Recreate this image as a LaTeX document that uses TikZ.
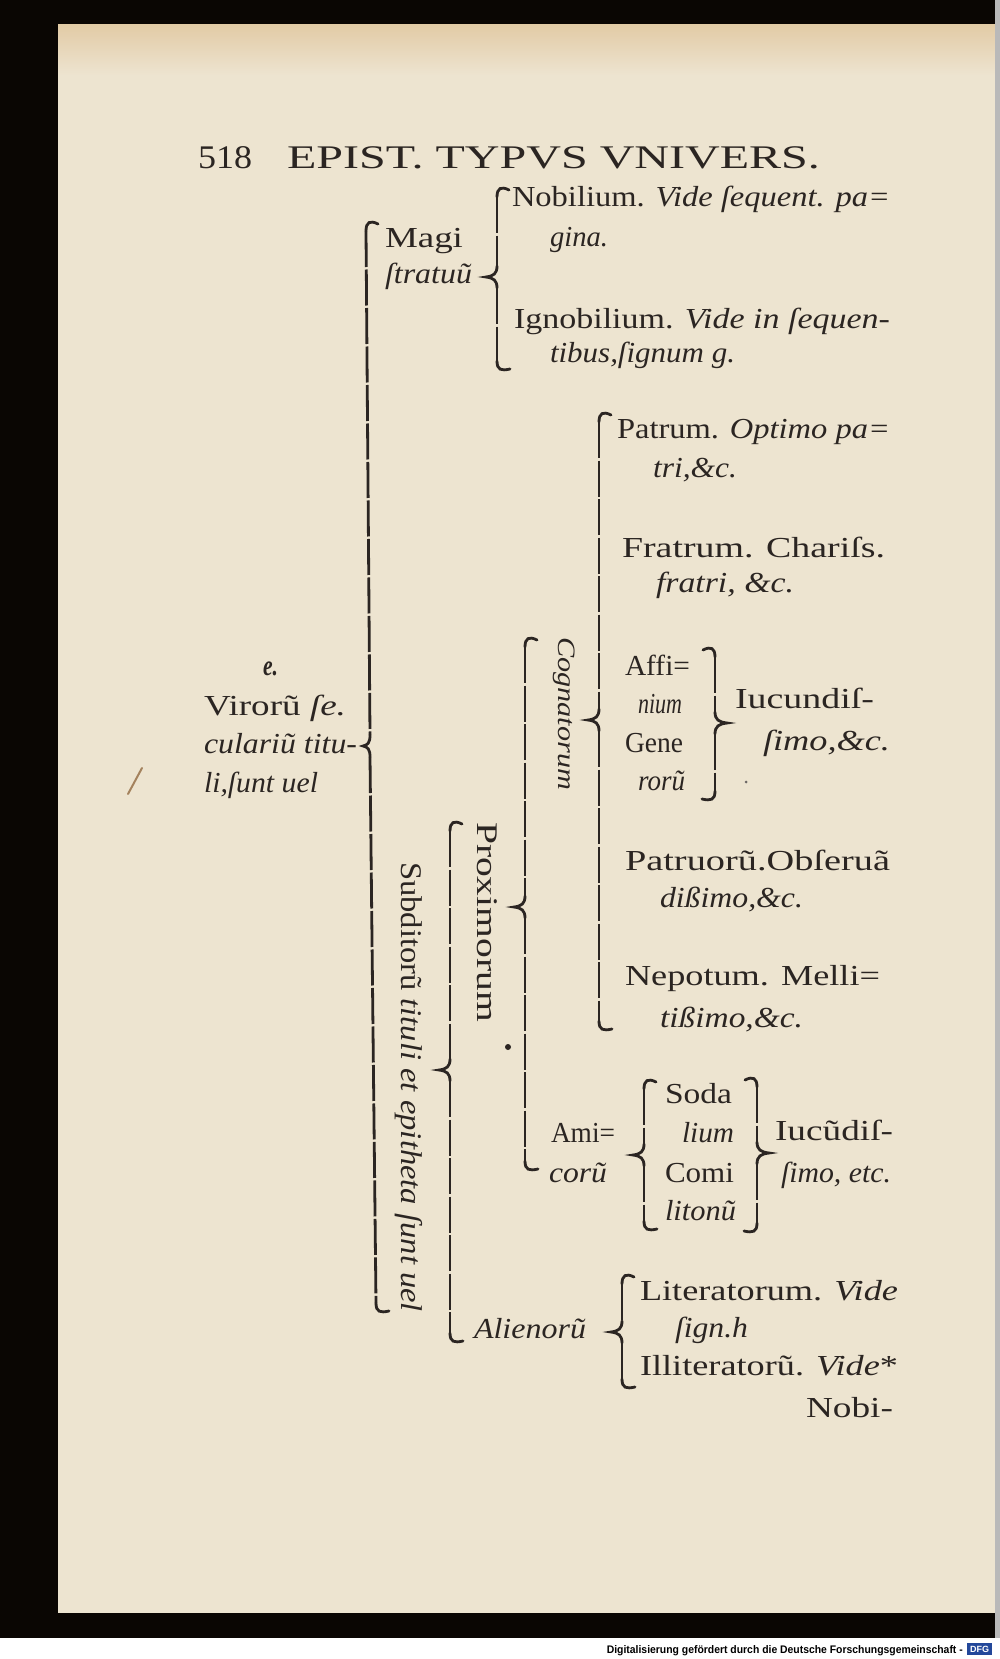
\documentclass[tikz,border=0pt]{standalone}
\usepackage{fontspec}
\setmainfont{Liberation Serif}
\newfontfamily\footfont{Liberation Sans}
\usepackage{graphicx}
\definecolor{ink}{HTML}{2B2522}
\definecolor{paper}{HTML}{EDE4D0}
\definecolor{paperedge}{HTML}{E2CBA6}
\definecolor{dfgblue}{HTML}{23489A}
\newcommand\fw[2]{\resizebox{#1pt}{\height}{#2}}
% left brace with separate x for top, middle, bottom parts
\newcommand\LBB[7]{% xt yt xm ym xb yb nub
  \draw[brl] (#1+12,#2+2) .. controls (#1+4,#2-2) and (#1,#2) .. (#1,#2+9);
  \draw[brl,brdash] (#1,#2+9) -- (#3,#4-11);
  \draw[brl] (#3,#4-11) .. controls (#3,#4-3) and (#3-#7/3,#4-1) .. (#3-#7,#4)
     .. controls (#3-#7/3,#4+1) and (#3,#4+3) .. (#3,#4+11);
  \draw[brl,brdash] (#3,#4+11) -- (#5,#6-9);
  \draw[brl] (#5,#6-9) .. controls (#5,#6) and (#5+4,#6+1) .. (#5+13,#6-1);
}
\newcommand\LB[4]{\LBB{#1}{#2}{#1}{#3}{#1}{#4}{11}}
\newcommand\RB[4]{% right brace: x top mid bot
  \draw[brl] (#1-12,#2+2) .. controls (#1-4,#2-2) and (#1,#2) .. (#1,#2+9);
  \draw[brl,brdash] (#1,#2+9) -- (#1,#3-11);
  \draw[brl] (#1,#3-11) .. controls (#1,#3-3) and (#1+4,#3-1) .. (#1+12,#3)
     .. controls (#1+4,#3+1) and (#1,#3+3) .. (#1,#3+11);
  \draw[brl,brdash] (#1,#3+11) -- (#1,#4-9);
  \draw[brl] (#1,#4-9) .. controls (#1,#4) and (#1-4,#4+1) .. (#1-13,#4-1);
}
\begin{document}
\begin{tikzpicture}[x=1pt,y=-1pt,
  txt/.style={anchor=base west,inner sep=0pt,outer sep=0pt,text=ink,
     font=\fontsize{29}{29}\selectfont},
  head/.style={txt,font=\fontsize{33}{33}\selectfont},
  brl/.style={draw=ink,line width=2.8pt,line cap=round},
  brdash/.style={line cap=butt,dash pattern=on 36pt off 2.5pt}]
% ---- page, margins, scan borders
\useasboundingbox (0,0) rectangle (1000,1659);
\fill[black!95!brown] (0,0) rectangle (1000,1659);
\fill[white] (0,1638) rectangle (1000,1659);
\fill[paper] (58,25) rectangle (995,1613);
\shade[top color=paperedge,bottom color=paper] (58,25) rectangle (995,75);
\fill[gray!55] (995,0) rectangle (1000,1638);
% footer
\node[anchor=base east,inner sep=0pt,font=\footfont\bfseries\fontsize{11}{11}\selectfont] (foot)
  at (963,1653) {\fw{356}{Digitalisierung gefördert durch die Deutsche Forschungsgemeinschaft -}};
\node[fill=dfgblue,text=white,inner sep=0pt,minimum width=25pt,minimum height=12pt,
  font=\footfont\bfseries\fontsize{9}{9}\selectfont] (dfg) at (979.5,1649) {DFG};
% ---- header
\node[head] (pg) at (198,168) {\fw{54}{518}};
\node[head] (title) at (287,168) {\fw{533}{EPIST. TYPVS VNIVERS.}};
% ---- root
\node[txt] (e) at (263,675) {\fw{15}{\textit{\textbf{e.}}}};
\node[txt] (v1) at (204,715) {\fw{142}{Virorũ \textit{ſe.}}};
\node[txt] (v2) at (204,753) {\fw{153}{\textit{culariũ titu-}}};
\node[txt] (v3) at (204,792) {\fw{114}{\textit{li,ſunt uel}}};
\LBB{366}{222}{370}{746}{376}{1312}{7}
% ---- Magistratuum
\node[txt] (m1) at (385,247) {\fw{78}{Magi}};
\node[txt] (m2) at (385,283) {\fw{87}{\textit{ſtratuũ}}};
\LB{497}{188}{277}{370}
\node[txt] (n1) at (512,206) {\fw{378}{Nobilium. \textit{Vide ſequent. pa=}}};
\node[txt] (n2) at (550,246) {\fw{58}{\textit{gina.}}};
\node[txt] (i1) at (514,328) {\fw{376}{Ignobilium. \textit{Vide in ſequen-}}};
\node[txt] (i2) at (550,362) {\fw{185}{\textit{tibus,ſignum g.}}};
% ---- Subditorum
\node[txt,rotate=-90,font=\fontsize{30}{30}\selectfont] (sub) at (401,862)
  {\fw{450}{Subditorũ \textit{tituli et epitheta ſunt uel}}};
\LB{450}{822}{1070}{1342}
\node[txt,rotate=-90,font=\fontsize{30}{30}\selectfont] (prox) at (477,822) {\fw{200}{Proximorum}};
\node[txt] (alien) at (474,1338) {\fw{112}{\textit{Alienorũ}}};
% ---- Proximorum
\LB{525}{638}{907}{1170}
\node[txt,rotate=-90,font=\fontsize{25}{25}\selectfont] (cogn) at (558,637) {\fw{153}{\textit{Cognatorum}}};
\node[txt] (ami1) at (551,1142) {\fw{64}{Ami=}};
\node[txt] (ami2) at (549,1182) {\fw{58}{\textit{corũ}}};
% ---- Cognatorum
\LB{599}{413}{720}{1030}
\node[txt] (p1) at (617,438) {\fw{273}{Patrum. \textit{Optimo pa=}}};
\node[txt] (p2) at (653,477) {\fw{84}{\textit{tri,\&c.}}};
\node[txt] (f1) at (622,557) {\fw{263}{Fratrum. Chariſs.}};
\node[txt] (f2) at (656,592) {\fw{138}{\textit{fratri, \&c.}}};
\node[txt] (a1) at (625,675) {\fw{65}{Affi=}};
\node[txt] (a2) at (638,713) {\fw{44}{\textit{nium}}};
\node[txt] (a3) at (625,752) {\fw{58}{Gene}};
\node[txt] (a4) at (638,790) {\fw{47}{\textit{rorũ}}};
\RB{715}{648}{723}{800}
\node[txt] (j1) at (735,708) {\fw{139}{Iucundiſ-}};
\node[txt] (j2) at (763,750) {\fw{127}{\textit{ſimo,\&c.}}};
\node[txt] (pa1) at (625,870) {\fw{265}{Patruorũ.Obſeruã}};
\node[txt] (pa2) at (660,907) {\fw{143}{\textit{dißimo,\&c.}}};
\node[txt] (ne1) at (625,985) {\fw{255}{Nepotum. Melli=}};
\node[txt] (ne2) at (660,1027) {\fw{143}{\textit{tißimo,\&c.}}};
% ---- Amicorum
\LB{644}{1080}{1155}{1230}
\node[txt] (s1) at (665,1103) {\fw{67}{Soda}};
\node[txt] (s2) at (682,1142) {\fw{52}{\textit{lium}}};
\node[txt] (s3) at (665,1182) {\fw{69}{Comi}};
\node[txt] (s4) at (665,1220) {\fw{71}{\textit{litonũ}}};
\RB{757}{1078}{1153}{1232}
\node[txt] (k1) at (775,1140) {\fw{118}{Iucũdiſ-}};
\node[txt] (k2) at (781,1182) {\fw{110}{\textit{ſimo, etc.}}};
% ---- Alienorum
\LB{622}{1275}{1332}{1388}
\node[txt] (l1) at (640,1300) {\fw{258}{Literatorum. \textit{Vide}}};
\node[txt] (l2) at (675,1337) {\fw{73}{\textit{ſign.h}}};
\node[txt] (l3) at (640,1375) {\fw{258}{Illiteratorũ. \textit{Vide}*}};
\node[txt] (l4) at (806,1417) {\fw{87}{Nobi-}};
% ---- stray marks on the paper
\draw[brown!70!black,line width=2pt,line cap=round,opacity=.7] (128,794) -- (142,768);
\fill[ink] (508,1047) circle (3pt);
\fill[ink!70] (746,782) circle (1.5pt);
\end{tikzpicture}
\end{document}
